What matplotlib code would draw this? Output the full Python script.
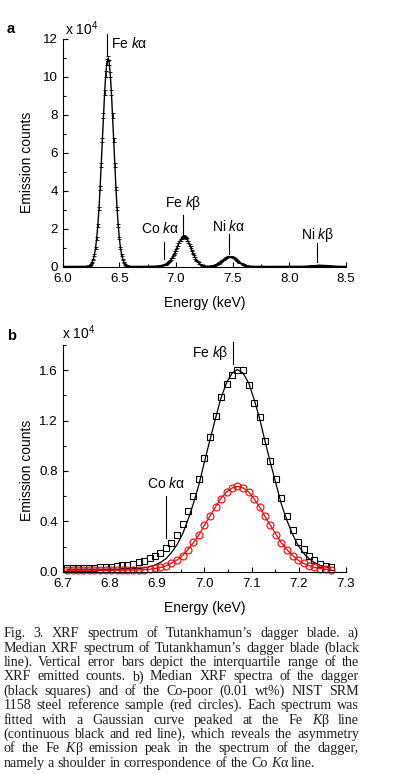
import matplotlib
matplotlib.use("Agg")
import matplotlib.pyplot as plt
import numpy as np
from matplotlib.ticker import MultipleLocator

plt.rcParams['font.family'] = ['Liberation Sans', 'DejaVu Sans']
plt.rcParams['mathtext.fontset'] = 'custom'
plt.rcParams['mathtext.rm'] = 'Liberation Sans'
plt.rcParams['mathtext.it'] = 'Liberation Sans:italic'
plt.rcParams['axes.linewidth'] = 0.8

# panel a: median spectrum of the blade (counts x 1e4), one value per 0.01 keV channel from 6.00 keV
a_start, a_step = 6.0, 0.01
counts_a = [
    0.03, 0.03, 0.03, 0.03, 0.03, 0.03, 0.03, 0.03, 0.03, 0.03,
    0.03, 0.03, 0.03, 0.03, 0.03, 0.03, 0.03, 0.03, 0.03, 0.032,
    0.034, 0.038, 0.047, 0.064, 0.095, 0.15, 0.25, 0.40, 0.64, 1.00,
    1.51, 2.20, 3.07, 4.14, 5.36, 6.68, 7.98, 9.17, 10.14, 10.80,
    10.98, 10.76, 10.14, 9.17, 7.98, 6.68, 5.36, 4.14, 3.07, 2.20,
    1.51, 1.00, 0.64, 0.40, 0.25, 0.15, 0.095, 0.064, 0.047, 0.038,
    0.034, 0.032, 0.03, 0.03, 0.03, 0.03, 0.03, 0.03, 0.03, 0.03,
    0.03, 0.032, 0.032, 0.033, 0.033, 0.034, 0.035, 0.036, 0.037, 0.039,
    0.04, 0.042, 0.046, 0.05, 0.055, 0.062, 0.07, 0.08, 0.095, 0.11,
    0.13, 0.15, 0.18, 0.22, 0.27, 0.34, 0.43, 0.53, 0.65, 0.77,
    0.90, 1.04, 1.18, 1.31, 1.42, 1.51, 1.57, 1.60, 1.58, 1.53,
    1.44, 1.32, 1.18, 1.03, 0.87, 0.72, 0.59, 0.47, 0.36, 0.28,
    0.21, 0.16, 0.12, 0.09, 0.07, 0.056, 0.047, 0.043, 0.042, 0.042,
    0.046, 0.051, 0.061, 0.074, 0.091, 0.113, 0.14, 0.172, 0.21, 0.252,
    0.298, 0.346, 0.394, 0.44, 0.48, 0.513, 0.536, 0.548, 0.548, 0.536,
    0.513, 0.48, 0.44, 0.394, 0.346, 0.298, 0.252, 0.21, 0.172, 0.14,
    0.113, 0.091, 0.074, 0.061, 0.051, 0.044, 0.039, 0.036, 0.034, 0.032,
    0.03, 0.03, 0.03, 0.03, 0.03, 0.03, 0.03, 0.03, 0.03, 0.03,
    0.03, 0.03, 0.03, 0.03, 0.03, 0.03, 0.03, 0.03, 0.03, 0.03,
    0.03, 0.03, 0.03, 0.03, 0.03, 0.03, 0.03, 0.03, 0.03, 0.03,
    0.03, 0.03, 0.03, 0.03, 0.03, 0.03, 0.03, 0.03, 0.03, 0.03,
    0.033, 0.034, 0.036, 0.038, 0.041, 0.044, 0.048, 0.052, 0.057, 0.062,
    0.067, 0.072, 0.077, 0.081, 0.085, 0.087, 0.089, 0.09, 0.089, 0.088,
    0.085, 0.081, 0.077, 0.072, 0.067, 0.062, 0.057, 0.052, 0.048, 0.044,
    0.041, 0.038, 0.036, 0.034, 0.033, 0.032, 0.031, 0.031, 0.031, 0.031,
    0.031,
]
# half of the interquartile range, same channels
iqr_a = [
    0.02, 0.02, 0.02, 0.02, 0.02, 0.02, 0.02, 0.02, 0.02, 0.02,
    0.02, 0.02, 0.02, 0.02, 0.02, 0.02, 0.02, 0.02, 0.02, 0.02,
    0.02, 0.02, 0.02, 0.02, 0.02, 0.03, 0.03, 0.04, 0.05, 0.06,
    0.07, 0.08, 0.09, 0.10, 0.11, 0.12, 0.13, 0.14, 0.15, 0.15,
    0.15, 0.15, 0.14, 0.13, 0.12, 0.11, 0.10, 0.09, 0.08, 0.07,
    0.06, 0.05, 0.04, 0.03, 0.03, 0.02, 0.02, 0.02, 0.02, 0.02,
    0.02, 0.02, 0.02, 0.02, 0.02, 0.02, 0.02, 0.02, 0.02, 0.02,
    0.02, 0.02, 0.02, 0.02, 0.02, 0.02, 0.02, 0.02, 0.02, 0.02,
    0.02, 0.02, 0.02, 0.02, 0.02, 0.02, 0.02, 0.02, 0.02, 0.02,
    0.02, 0.02, 0.03, 0.03, 0.03, 0.03, 0.04, 0.04, 0.04, 0.05,
    0.05, 0.05, 0.06, 0.06, 0.06, 0.06, 0.06, 0.06, 0.06, 0.06,
    0.06, 0.05, 0.05, 0.05, 0.04, 0.04, 0.04, 0.03, 0.03, 0.03,
    0.03, 0.02, 0.02, 0.02, 0.02, 0.02, 0.02, 0.02, 0.02, 0.02,
    0.02, 0.02, 0.02, 0.02, 0.02, 0.03, 0.03, 0.03, 0.03, 0.03,
    0.03, 0.03, 0.03, 0.03, 0.03, 0.03, 0.03, 0.03, 0.03, 0.03,
    0.03, 0.03, 0.03, 0.03, 0.03, 0.02, 0.02, 0.02, 0.02, 0.02,
    0.02, 0.02, 0.02, 0.02, 0.02, 0.02, 0.02, 0.02, 0.02, 0.02,
    0.02, 0.02, 0.02, 0.02, 0.02, 0.02, 0.02, 0.02, 0.02, 0.02,
    0.02, 0.02, 0.02, 0.02, 0.02, 0.02, 0.02, 0.02, 0.02, 0.02,
    0.02, 0.02, 0.02, 0.02, 0.02, 0.02, 0.02, 0.02, 0.02, 0.02,
    0.02, 0.02, 0.02, 0.02, 0.02, 0.02, 0.02, 0.02, 0.02, 0.02,
    0.02, 0.02, 0.02, 0.02, 0.02, 0.02, 0.02, 0.02, 0.02, 0.02,
    0.02, 0.02, 0.02, 0.02, 0.02, 0.02, 0.02, 0.02, 0.02, 0.02,
    0.02, 0.02, 0.02, 0.02, 0.02, 0.02, 0.02, 0.02, 0.02, 0.02,
    0.02, 0.02, 0.02, 0.02, 0.02, 0.02, 0.02, 0.02, 0.02, 0.02,
    0.02,
]
energy_a = np.round(a_start + a_step * np.arange(len(counts_a)), 3)

# panel b: Fe K-beta region, dagger (squares) and NIST SRM 1158 (circles), with Gaussian fits
energy_b = [
    6.709, 6.721, 6.732, 6.744, 6.756, 6.767, 6.779, 6.791, 6.802, 6.814,
    6.826, 6.837, 6.849, 6.861, 6.872, 6.884, 6.895, 6.907, 6.919, 6.930,
    6.942, 6.954, 6.965, 6.977, 6.989, 7.000, 7.012, 7.024, 7.035, 7.047,
    7.059, 7.070, 7.082, 7.094, 7.105, 7.117, 7.128, 7.140, 7.152, 7.163,
    7.175, 7.187, 7.198, 7.210, 7.222, 7.233, 7.245, 7.257, 7.268,
]
dagger_b = [
    0.030, 0.030, 0.031, 0.031, 0.032, 0.033, 0.035, 0.037, 0.040, 0.044,
    0.050, 0.056, 0.064, 0.074, 0.088, 0.105, 0.125, 0.150, 0.185, 0.230,
    0.295, 0.380, 0.480, 0.600, 0.740, 0.900, 1.070, 1.240, 1.385, 1.490,
    1.560, 1.600, 1.605, 1.480, 1.340, 1.225, 1.035, 0.880, 0.735, 0.585,
    0.440, 0.330, 0.235, 0.180, 0.125, 0.090, 0.065, 0.045, 0.035,
]
dagger_fit_b = [
    0.020, 0.020, 0.020, 0.020, 0.020, 0.020, 0.020, 0.020, 0.020, 0.020,
    0.021, 0.022, 0.023, 0.026, 0.031, 0.039, 0.052, 0.073, 0.104, 0.150,
    0.214, 0.300, 0.409, 0.543, 0.698, 0.870, 1.048, 1.223, 1.377, 1.500,
    1.578, 1.605, 1.577, 1.497, 1.373, 1.217, 1.044, 0.864, 0.694, 0.538,
    0.406, 0.296, 0.212, 0.148, 0.103, 0.072, 0.051, 0.038, 0.030,
]
nist_b = [
    0.012, 0.012, 0.013, 0.012, 0.012, 0.013, 0.012, 0.012, 0.013, 0.012,
    0.013, 0.013, 0.014, 0.015, 0.017, 0.020, 0.026, 0.035, 0.048, 0.067,
    0.094, 0.128, 0.176, 0.233, 0.295, 0.370, 0.445, 0.515, 0.580, 0.632,
    0.664, 0.678, 0.664, 0.633, 0.578, 0.515, 0.440, 0.367, 0.294, 0.229,
    0.175, 0.128, 0.093, 0.066, 0.047, 0.034, 0.025, 0.020, 0.016,
]
nist_fit_b = [
    0.012, 0.012, 0.012, 0.012, 0.012, 0.012, 0.012, 0.012, 0.012, 0.012,
    0.012, 0.013, 0.013, 0.014, 0.016, 0.020, 0.025, 0.034, 0.047, 0.067,
    0.093, 0.129, 0.175, 0.231, 0.296, 0.369, 0.443, 0.517, 0.581, 0.633,
    0.666, 0.677, 0.665, 0.632, 0.580, 0.514, 0.441, 0.366, 0.295, 0.229,
    0.174, 0.128, 0.093, 0.066, 0.047, 0.034, 0.025, 0.020, 0.016,
]

# emission lines marked in each panel (keV)
lines_a = ["Fe $k$α", "Co $k$α", "Fe $k$β", "Ni $k$α", "Ni $k$β"]
line_e_a = [6.387, 6.894, 7.062, 7.470, 8.247]
lines_b = ["Fe $k$β", "Co $k$α"]
line_e_b = [7.061, 6.918]

caption = [
    "Fig. 3. XRF spectrum of Tutankhamun’s dagger blade. a)",
    "Median XRF spectrum of Tutankhamun’s dagger blade (black",
    "line). Vertical error bars depict the interquartile range of the",
    "XRF emitted counts. b) Median XRF spectra of the dagger",
    "(black squares) and of the Co-poor (0.01 wt%) NIST SRM",
    "1158 steel reference sample (red circles). Each spectrum was",
    "fitted with a Gaussian curve peaked at the Fe _K_β line",
    "(continuous black and red line), which reveals the asymmetry",
    "of the Fe _K_β emission peak in the spectrum of the dagger,",
    "namely a shoulder in correspondence of the Co _K_α line.",
]

W, H = 394, 774
fig = plt.figure(figsize=(W / 100, H / 100), dpi=100)


def px_axes(left, top, right, bottom):
    return fig.add_axes([left / W, 1 - bottom / H, (right - left) / W, (bottom - top) / H])


def style_axes(ax, xmaj, xmin, ymaj, ymin):
    ax.spines['top'].set_visible(False)
    ax.spines['right'].set_visible(False)
    ax.xaxis.set_major_locator(MultipleLocator(xmaj))
    ax.xaxis.set_minor_locator(MultipleLocator(xmin))
    ax.yaxis.set_major_locator(MultipleLocator(ymaj))
    ax.yaxis.set_minor_locator(MultipleLocator(ymin))
    ax.tick_params(which='both', direction='in', width=0.8, labelsize=9.6)
    ax.tick_params(axis='x', pad=4.3)
    ax.tick_params(axis='y', pad=3.5)
    ax.tick_params(which='major', length=3.5)
    ax.tick_params(which='minor', length=2)


def mark(ax, e, y0, y1, label, tx, ty, ha='center'):
    ax.plot([e, e], [y0, y1], color='black', lw=0.8, clip_on=False)
    ax.text(tx, ty, label, ha=ha, va='center', fontsize=10)


# ---- panel a ----
ax1 = px_axes(62.7, 39, 346, 267)
ax1.errorbar(energy_a, counts_a, yerr=iqr_a, fmt='-', color='black', lw=1.0,
             elinewidth=0.6, capsize=1.6, capthick=0.6)
ax1.set_xlim(6.0, 8.5)
ax1.set_ylim(0, 12)
style_axes(ax1, 0.5, 0.25, 2, 1)
ax1.set_xlabel("Energy (keV)", fontsize=10, va='center')
ax1.xaxis.set_label_coords(0.5, (267 - 302.7) / 228)
ax1.set_ylabel("Emission counts", fontsize=10, va='center')
ax1.yaxis.set_label_coords((27 - 62.7) / 283.3, (267 - 162.5) / 228)

mark(ax1, line_e_a[0], 11.16, 12.26, lines_a[0], 6.426, 11.74, ha='left')
mark(ax1, line_e_a[1], 0.42, 1.32, lines_a[1], 6.861, 2.0)
mark(ax1, line_e_a[2], 1.63, 2.74, lines_a[2], 7.068, 3.37)
mark(ax1, line_e_a[3], 0.68, 1.74, lines_a[3], 7.465, 2.12)
mark(ax1, line_e_a[4], 0.26, 1.26, lines_a[4], 8.248, 1.68)

# ---- panel b ----
ax2 = px_axes(62.7, 345, 346, 571.7)
ax2.plot(energy_b, dagger_b, ls='none', marker='s', ms=4.6, mfc='none',
         mec='black', mew=0.8, clip_on=False)
ax2.plot(energy_b, dagger_fit_b, color='black', lw=0.9)
ax2.plot(energy_b, nist_b, ls='none', marker='o', ms=5.0, mfc='none',
         mec='red', mew=0.8, clip_on=False)
ax2.plot(energy_b, nist_fit_b, color='red', lw=0.9)
ax2.set_xlim(6.7, 7.3)
ax2.set_ylim(0, 1.8)
style_axes(ax2, 0.1, 0.05, 0.4, 0.2)
ax2.set_xlabel("Energy (keV)", fontsize=10, va='center')
ax2.xaxis.set_label_coords(0.5, (571.7 - 608) / 226.7)
ax2.set_ylabel("Emission counts", fontsize=10, va='center')
ax2.yaxis.set_label_coords((27 - 62.7) / 283.3, (571.7 - 470) / 226.7)

mark(ax2, line_e_b[0], 1.647, 1.827, lines_b[0], 7.052, 1.735, ha='right')
mark(ax2, line_e_b[1], 0.27, 0.60, lines_b[1], 6.918, 0.697)

# panel letters and scale notes
fig.text(11 / W, 1 - 28.7 / H, "a", fontsize=10.5, fontweight='bold', ha='center', va='center')
fig.text(11.7 / W, 1 - 335.7 / H, "b", fontsize=10.5, fontweight='bold', ha='center', va='center')
fig.text(65 / W, 1 - 34.5 / H, "x 10$^4$", fontsize=10, ha='left', va='baseline')
fig.text(62.5 / W, 1 - 339.3 / H, "x 10$^4$", fontsize=10, ha='left', va='baseline')

# ---- caption, justified like the printed page ----
renderer = fig.canvas.get_renderer()
serif = 'Liberation Serif'
cap_color = '#1e1e1e'


def seg_w(s, it, size):
    t = fig.text(0, 0, s, fontsize=size, family=serif, style='italic' if it else 'normal')
    w = t.get_window_extent(renderer).width
    t.remove()
    return w


def word_parts(word):
    return [(p, k % 2 == 1) for k, p in enumerate(word.split('_')) if p]


def word_w(word, size):
    return sum(seg_w(p, it, size) for p, it in word_parts(word))


cap_left, cap_right = 3.3, 359.0
base0, dy = 637.3, 14.38

# size chosen so the last (ragged) line has the printed width
s0 = 10.0
last = caption[-1].split()
sp0 = seg_w('a a', False, s0) - seg_w('aa', False, s0)
nat = sum(word_w(w, s0) for w in last) + sp0 * (len(last) - 1)
cap_size = s0 * (315.0 - cap_left) / nat
space = seg_w('a a', False, cap_size) - seg_w('aa', False, cap_size)

for k, line in enumerate(caption):
    words = line.split()
    widths = [word_w(w, cap_size) for w in words]
    if k < len(caption) - 1:
        gap = (cap_right - cap_left - sum(widths)) / (len(words) - 1)
    else:
        gap = space
    x = cap_left
    y = 1 - (base0 + k * dy) / H
    for w, ww in zip(words, widths):
        xx = x
        for p, it in word_parts(w):
            fig.text(xx / W, y, p, fontsize=cap_size, family=serif,
                     style='italic' if it else 'normal', color=cap_color,
                     ha='left', va='baseline')
            xx += seg_w(p, it, cap_size)
        x += ww + gap

fig.savefig('out.png', dpi=100)
